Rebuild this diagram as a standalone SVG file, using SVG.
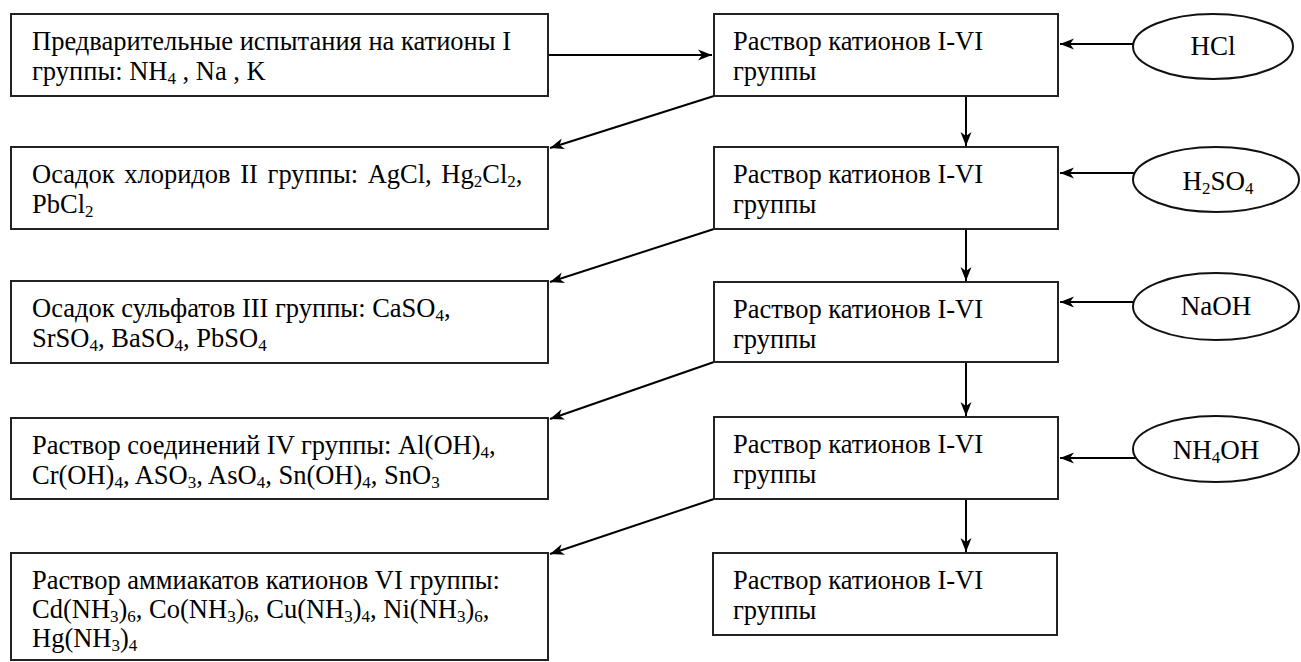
<svg xmlns="http://www.w3.org/2000/svg" width="1301" height="662" viewBox="0 0 1301 662">
<style>
.box{fill:#fff;stroke:#222;stroke-width:2}
.ell{fill:#fff;stroke:#111;stroke-width:2}
.t{font-family:"Liberation Serif","Times New Roman",serif;font-size:26.5px;fill:#000}
.e{font-family:"Liberation Serif","Times New Roman",serif;font-size:27px;fill:#000}
.s{font-size:17px}
.c{stroke:#000;stroke-width:2;fill:none}
</style>
<defs>
<marker id="ah" markerWidth="16" markerHeight="12" refX="14" refY="6" orient="auto" markerUnits="userSpaceOnUse">
<path d="M0,0.5 L14,6 L0,11.5 L4,6 z" fill="#000"/>
</marker>
</defs>
<rect width="1301" height="662" fill="#fff"/>
<g id="connectors">
<line class="c" x1="548" y1="55" x2="712" y2="55" marker-end="url(#ah)"/>
<line class="c" x1="1133" y1="44" x2="1060" y2="44" marker-end="url(#ah)"/>
<line class="c" x1="1134" y1="173" x2="1060" y2="173" marker-end="url(#ah)"/>
<line class="c" x1="1133" y1="302" x2="1060" y2="302" marker-end="url(#ah)"/>
<line class="c" x1="1136" y1="458" x2="1060" y2="458" marker-end="url(#ah)"/>
<line class="c" x1="966" y1="96" x2="966" y2="146" marker-end="url(#ah)"/>
<line class="c" x1="966" y1="229" x2="966" y2="281" marker-end="url(#ah)"/>
<line class="c" x1="966" y1="362" x2="966" y2="416" marker-end="url(#ah)"/>
<line class="c" x1="966" y1="499" x2="966" y2="552" marker-end="url(#ah)"/>
<line class="c" x1="714" y1="96" x2="550" y2="148" marker-end="url(#ah)"/>
<line class="c" x1="714" y1="229" x2="550" y2="282" marker-end="url(#ah)"/>
<line class="c" x1="714" y1="362" x2="550" y2="419" marker-end="url(#ah)"/>
<line class="c" x1="714" y1="499" x2="550" y2="554" marker-end="url(#ah)"/>
</g>
<g id="L1"><rect class="box" x="11" y="14" width="537" height="82"/>
<text class="t" x="32" y="50">Предварительные испытания на катионы I</text>
<text class="t" x="32" y="80">группы: NH<tspan class="s" dy="4">4</tspan><tspan dy="-4"> , Na , K</tspan></text></g>
<g id="L2"><rect class="box" x="11" y="147" width="537" height="82"/>
<text class="t" x="32" y="183" word-spacing="3">Осадок хлоридов II группы: AgCl, Hg<tspan class="s" dy="4">2</tspan><tspan dy="-4">Cl</tspan><tspan class="s" dy="4">2</tspan><tspan dy="-4">,</tspan></text>
<text class="t" x="32" y="213">PbCl<tspan class="s" dy="4">2</tspan></text></g>
<g id="L3"><rect class="box" x="11" y="281" width="537" height="82"/>
<text class="t" x="32" y="317">Осадок сульфатов III группы: CaSO<tspan class="s" dy="4">4</tspan><tspan dy="-4">,</tspan></text>
<text class="t" x="32" y="347">SrSO<tspan class="s" dy="4">4</tspan><tspan dy="-4">, BaSO</tspan><tspan class="s" dy="4">4</tspan><tspan dy="-4">, PbSO</tspan><tspan class="s" dy="4">4</tspan></text></g>
<g id="L4"><rect class="box" x="11" y="418" width="537" height="81"/>
<text class="t" x="32" y="454">Раствор соединений IV группы: Al(OH)<tspan class="s" dy="4">4</tspan><tspan dy="-4">,</tspan></text>
<text class="t" x="32" y="484">Cr(OH)<tspan class="s" dy="4">4</tspan><tspan dy="-4">, ASO</tspan><tspan class="s" dy="4">3</tspan><tspan dy="-4">, AsO</tspan><tspan class="s" dy="4">4</tspan><tspan dy="-4">, Sn(OH)</tspan><tspan class="s" dy="4">4</tspan><tspan dy="-4">, SnO</tspan><tspan class="s" dy="4">3</tspan></text></g>
<g id="L5"><rect class="box" x="11" y="553" width="537" height="107"/>
<text class="t" x="32" y="589">Раствор аммиакатов катионов VI группы:</text>
<text class="t" x="32" y="618">Cd(NH<tspan class="s" dy="4">3</tspan><tspan dy="-4">)</tspan><tspan class="s" dy="4">6</tspan><tspan dy="-4">, Co(NH</tspan><tspan class="s" dy="4">3</tspan><tspan dy="-4">)</tspan><tspan class="s" dy="4">6</tspan><tspan dy="-4">, Cu(NH</tspan><tspan class="s" dy="4">3</tspan><tspan dy="-4">)</tspan><tspan class="s" dy="4">4</tspan><tspan dy="-4">, Ni(NH</tspan><tspan class="s" dy="4">3</tspan><tspan dy="-4">)</tspan><tspan class="s" dy="4">6</tspan><tspan dy="-4">,</tspan></text>
<text class="t" x="32" y="647">Hg(NH<tspan class="s" dy="4">3</tspan><tspan dy="-4">)</tspan><tspan class="s" dy="4">4</tspan></text></g>
<g id="R1"><rect class="box" x="714" y="14" width="344" height="82"/>
<text class="t" x="733" y="50">Раствор катионов I-VI</text><text class="t" x="733" y="80">группы</text></g>
<g id="R2"><rect class="box" x="714" y="147" width="344" height="82"/>
<text class="t" x="733" y="183">Раствор катионов I-VI</text><text class="t" x="733" y="213">группы</text></g>
<g id="R3"><rect class="box" x="714" y="282" width="344" height="80"/>
<text class="t" x="733" y="318">Раствор катионов I-VI</text><text class="t" x="733" y="348">группы</text></g>
<g id="R4"><rect class="box" x="714" y="417" width="344" height="82"/>
<text class="t" x="733" y="453">Раствор катионов I-VI</text><text class="t" x="733" y="483">группы</text></g>
<g id="R5"><rect class="box" x="713" y="553" width="344" height="82"/>
<text class="t" x="733" y="589">Раствор катионов I-VI</text><text class="t" x="733" y="619">группы</text></g>
<g id="HCl"><ellipse class="ell" cx="1213" cy="46.5" rx="80" ry="32.5"/>
<text class="e" x="1213" y="55" text-anchor="middle">HCl</text></g>
<g id="H2SO4"><ellipse class="ell" cx="1216" cy="179.5" rx="83" ry="32.5"/>
<text class="e" x="1218" y="190" text-anchor="middle">H<tspan class="s" dy="4">2</tspan><tspan dy="-4">SO</tspan><tspan class="s" dy="4">4</tspan></text></g>
<g id="NaOH"><ellipse class="ell" cx="1216" cy="306.5" rx="83" ry="33.5"/>
<text class="e" x="1216" y="315" text-anchor="middle">NaOH</text></g>
<g id="NH4OH"><ellipse class="ell" cx="1216" cy="449" rx="83" ry="33"/>
<text class="e" x="1216" y="459" text-anchor="middle">NH<tspan class="s" dy="4">4</tspan><tspan dy="-4">OH</tspan></text></g>
</svg>
